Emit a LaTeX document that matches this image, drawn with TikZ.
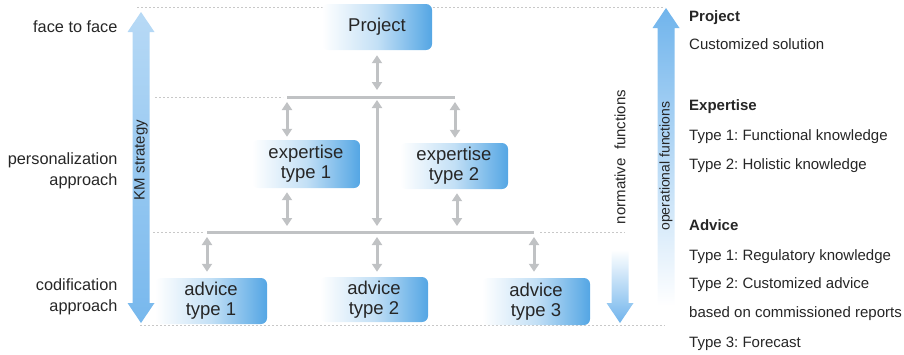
\documentclass[tikz,border=0pt]{standalone}
\usepackage{fontspec}
\setmainfont{Liberation Sans}
\frenchspacing
\usepackage{tikz}
\usetikzlibrary{arrows.meta}
\definecolor{boxBlue}{RGB}{84,166,228}
\definecolor{arrowBlue}{RGB}{112,180,236}
\definecolor{linkGray}{RGB}{192,194,196}
\definecolor{guideGray}{RGB}{200,200,200}
\definecolor{textGray}{RGB}{38,38,38}
\newcommand\shaftW{8.5}
\newcommand\headW{13.5}
\newcommand\headL{20}
\newcommand{\upDownArrowPath}[3]{
    (#1,#2) -- ({#1+\headW},{#2+\headL}) -- ({#1+\shaftW},{#2+\headL})
    -- ({#1+\shaftW},{#3-\headL}) -- ({#1+\headW},{#3-\headL}) -- (#1,#3)
    -- ({#1-\headW},{#3-\headL}) -- ({#1-\shaftW},{#3-\headL})
    -- ({#1-\shaftW},{#2+\headL}) -- ({#1-\headW},{#2+\headL}) -- cycle
}
\newcommand{\upArrowPath}[3]{
    (#1,#2) -- ({#1+\headW},{#2+\headL}) -- ({#1+\shaftW},{#2+\headL})
    -- ({#1+\shaftW},#3) -- ({#1-\shaftW},#3)
    -- ({#1-\shaftW},{#2+\headL}) -- ({#1-\headW},{#2+\headL}) -- cycle
}
\newcommand{\downArrowPath}[3]{
    ({#1-\shaftW},#2) -- ({#1+\shaftW},#2) -- ({#1+\shaftW},{#3-\headL})
    -- ({#1+\headW},{#3-\headL}) -- (#1,#3) -- ({#1-\headW},{#3-\headL})
    -- ({#1-\shaftW},{#3-\headL}) -- cycle
}
\tikzset{
    kbox/.style={rounded corners=6pt, left color=white, right color=boxBlue, middle color=boxBlue!35,
        minimum width=108pt, minimum height=46pt, inner sep=0pt, align=center,
        font=\fontsize{18.5}{20}\selectfont, text=textGray},
    link/.style={draw=linkGray, line width=3pt, {Triangle[width=10pt,length=8pt]}-{Triangle[width=10pt,length=8pt]}},
    bar/.style={draw=linkGray, line width=3pt},
    guide/.style={draw=guideGray, line width=0.8pt, dash pattern=on 2pt off 2pt},
    sidelabel/.style={anchor=east, align=right, font=\fontsize{16.3}{21}\selectfont, text=textGray},
    axislabel/.style={rotate=90, font=\fontsize{15}{18}\selectfont, text=textGray},
    legend/.style={anchor=west, inner sep=0pt, text height=11pt, text depth=3pt,
        font=\fontsize{15}{18}\selectfont, text=textGray},
    legendhead/.style={legend, font=\fontsize{15}{18}\selectfont\bfseries}
}

\begin{document}
\begin{tikzpicture}[x=1pt, y=-1pt]
    \useasboundingbox (0,0) rectangle (904,354);

    % level guides
    \draw[guide] (137,7) -- (665,7);
    \draw[guide] (155,97) -- (283,97);
    \draw[guide] (153,232) -- (204,232);
    \draw[guide] (540,232) -- (625,232);
    \draw[guide] (140,325) -- (665,325);

    % fat arrows
    \shade[top color=arrowBlue!50, middle color=arrowBlue!8, bottom color=arrowBlue!95] \upDownArrowPath{141}{12}{323};
    \shade[top color=arrowBlue, bottom color=white] \upArrowPath{666}{8}{306};
    \shade[top color=white, bottom color=arrowBlue] \downArrowPath{620}{250}{323};

    \node[axislabel] (km) at (141,160) {KM strategy};
    \node[axislabel] (norm) at (620,157) {normative~~functions};
    \node[axislabel, font=\fontsize{14}{17}\selectfont] (oper) at (666,166) {operational functions};

    % boxes
    \node[kbox, minimum width=110pt] (proj) at (377,27) {Project};
    \node[kbox, minimum height=48pt] (exp1) at (306,164) {expertise\\type 1};
    \node[kbox] (exp2) at (454,166) {expertise\\type 2};
    \node[kbox, minimum width=112pt] (adv1) at (211,301) {advice\\type 1};
    \node[kbox, minimum height=45pt] (adv2) at (374,299.5) {advice\\type 2};
    \node[kbox, minimum height=47pt] (adv3) at (536,301.5) {advice\\type 3};

    % connectors
    \coordinate (tbL) at (287,97);
    \coordinate (tbM) at (377,97);
    \coordinate (tbR) at (455,97);
    \coordinate (bbL) at (207,232);
    \coordinate (bb1) at (287,232);
    \coordinate (bbM) at (377,232);
    \coordinate (bb2) at (457,232);
    \coordinate (bbR) at (534,232);

    \draw[bar] (tbL) -- (tbR);
    \draw[bar] (bbL) -- (bbR);
    \draw[link, shorten <=5pt, shorten >=7pt] (proj.south) -- (tbM);
    \draw[link, shorten <=5pt, shorten >=3pt] (tbL) -- (tbL |- exp1.north);
    \draw[link, shorten <=5pt, shorten >=5pt] (tbR) -- (tbR |- exp2.north);
    \draw[link, shorten <=3pt, shorten >=6pt] (tbM) -- (bbM);
    \draw[link, shorten <=4pt, shorten >=6pt] (exp1.south -| bb1) -- (bb1);
    \draw[link, shorten <=4pt, shorten >=6pt] (exp2.south -| bb2) -- (bb2);
    \draw[link, shorten <=5pt, shorten >=6pt] (bbL) -- (bbL |- adv1.north);
    \draw[link, shorten <=5pt, shorten >=5pt] (bbM) -- (bbM |- adv2.north);
    \draw[link, shorten <=5pt, shorten >=6pt] (bbR) -- (bbR |- adv3.north);

    % approaches
    \node[sidelabel] (f2f) at (121,27) {face to face};
    \node[sidelabel] (pers) at (121,171) {personalization\\approach};
    \node[sidelabel] (codi) at (121,297) {codification\\approach};

    % legend
    \node[legendhead] (lgProj) at (689,17) {Project};
    \node[legend] (lgProjA) at (689,45) {Customized solution};
    \node[legendhead] (lgExp) at (689,106) {Expertise};
    \node[legend] (lgExpA) at (689,136) {Type 1: Functional knowledge};
    \node[legend] (lgExpB) at (689,165) {Type 2: Holistic knowledge};
    \node[legendhead] (lgAdv) at (689,226) {Advice};
    \node[legend] (lgAdvA) at (689,256) {Type 1: Regulatory knowledge};
    \node[legend] (lgAdvB) at (689,284) {Type 2: Customized advice};
    \node[legend] (lgAdvB2) at (689,313) {based on commissioned reports};
    \node[legend] (lgAdvC) at (689,343) {Type 3: Forecast};
\end{tikzpicture}
\end{document}
